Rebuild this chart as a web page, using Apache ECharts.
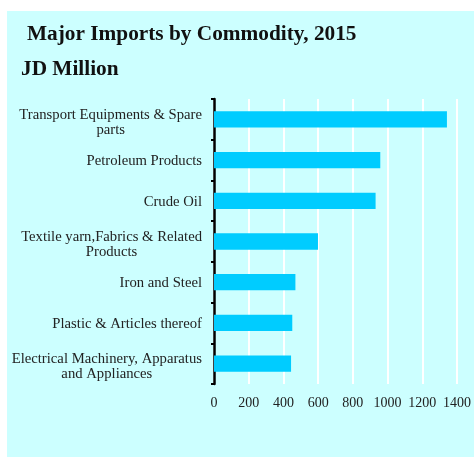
<!DOCTYPE html>
<html>
<head>
<meta charset="utf-8">
<style>
  html, body { margin: 0; padding: 0; background: #ffffff; }
  #chart { width: 474px; height: 457px; }
</style>
<script src="https://cdn.jsdelivr.net/npm/echarts@6/dist/echarts.min.js"></script>
</head>
<body>
<div id="chart"></div>
<script>
// Commodity groups, top to bottom (line breaks mark where long names wrap)
const categories = [
  'Transport Equipments & Spare\nparts',
  'Petroleum Products',
  'Crude Oil',
  'Textile yarn,Fabrics & Related\nProducts',
  'Iron and Steel',
  'Plastic & Articles thereof',
  'Electrical Machinery, Apparatus\nand Appliances'
];
// Import value, JD million
const imports = [1342, 958, 931, 599, 469, 451, 444];
const xTicks = [0, 200, 400, 600, 800, 1000, 1200, 1400];

const serif = '"Liberation Serif", "Times New Roman", serif';
const chart = echarts.init(document.getElementById('chart'), null, { renderer: 'canvas' });

// Category labels: each line centred inside a right-aligned block; a thin
// spacer line on top nudges the block slightly below the band centre.
function categoryLabel(v) {
  const lines = v.split('\n');
  const spacer = lines.length > 1 ? '{s2| }' : '{s1| }';
  return spacer + '\n' + lines.map(line => '{c|' + line + '}').join('\n');
}

chart.setOption({
  backgroundColor: '#ffffff',
  animation: false,
  graphic: [{
    type: 'rect',
    left: 7, top: 11,
    shape: { width: 467, height: 446 },
    style: { fill: '#ccffff' },
    z: -10
  }],
  title: [
    {
      text: 'Major Imports by Commodity, 2015',
      left: 27, top: 24, padding: 0,
      textStyle: { fontFamily: serif, fontSize: 21.3, fontWeight: 'bold', color: '#111111' }
    },
    {
      text: 'JD Million',
      left: 21, top: 59, padding: 0,
      textStyle: { fontFamily: serif, fontSize: 21.3, fontWeight: 'bold', color: '#111111' }
    }
  ],
  grid: { left: 214, right: 17, top: 99, bottom: 73, containLabel: false },
  xAxis: {
    type: 'value',
    min: xTicks[0],
    max: xTicks[xTicks.length - 1],
    interval: 200,
    axisLine: { show: false },
    axisTick: { show: false },
    axisLabel: {
      fontFamily: serif, fontSize: 14, color: '#222222', margin: 12,
      formatter: v => String(v)
    },
    splitLine: { show: true, lineStyle: { color: '#ffffff', width: 2 } }
  },
  yAxis: {
    type: 'category',
    inverse: true,
    data: categories,
    axisLine: { show: true, lineStyle: { color: '#000000', width: 2.5 } },
    axisTick: { show: true, length: 3, lineStyle: { color: '#000000', width: 2 } },
    axisLabel: {
      margin: 12,
      align: 'right',
      formatter: categoryLabel,
      rich: {
        s1: { fontSize: 1, lineHeight: 2 },
        s2: { fontSize: 1, lineHeight: 7 },
        c: { fontFamily: serif, fontSize: 14.7, color: '#222222', lineHeight: 15, align: 'center' }
      }
    }
  },
  series: [{
    type: 'bar',
    data: imports,
    barCategoryGap: '60%',
    itemStyle: { color: '#00ccff' }
  }]
});
</script>
</body>
</html>
